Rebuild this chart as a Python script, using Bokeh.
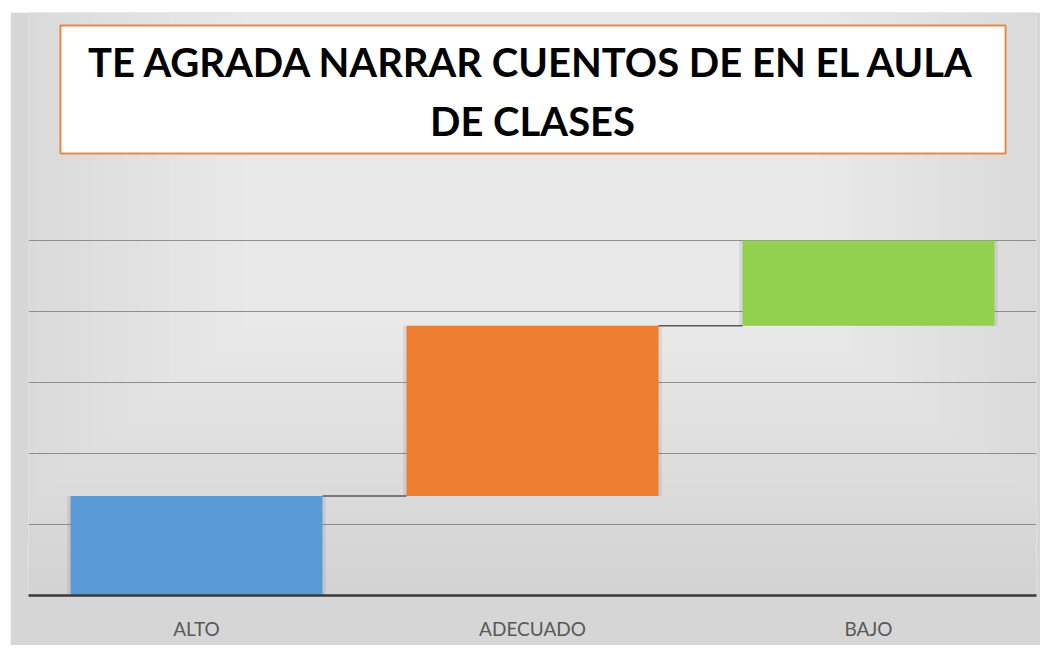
from bokeh.plotting import figure
from bokeh.models import FixedTicker, BoxAnnotation, Label, Range1d, ColumnDataSource
from bokeh.embed import file_html
from bokeh.resources import INLINE

# ---- data ----
categories = ["ALTO", "ADECUADO", "BAJO"]
values = [7, 12, 6]
colors = ["#5B9BD5", "#ED7D31", "#92D050"]
grid_ticks = [5, 10, 15, 20, 25]
title_text = "TE AGRADA NARRAR CUENTOS DE EN EL AULA\nDE CLASES"

# waterfall geometry derived from the values
bottoms, tops = [], []
run = 0
for v in values:
    bottoms.append(run)
    run += v
    tops.append(run)
xs = [i + 0.5 for i in range(len(categories))]
bar_w = 0.75

src = ColumnDataSource(dict(x=xs, bottom=bottoms, top=tops, color=colors, cat=categories))

p = figure(width=1030, height=633, margin=(12, 3, 4, 10),
           x_range=Range1d(0, 3), y_range=Range1d(0, 41.06),
           output_backend="svg", toolbar_location=None,
           min_border_left=18, min_border_right=4, min_border_top=0, min_border_bottom=50)

p.background_fill_color = "#d3d3d3"
p.border_fill_color = "#d6d6d6"
p.outline_line_color = None

# soft light gradient (lighter at top centre)
n = 30
for k in range(n):
    p.add_layout(BoxAnnotation(left=-0.3 + 0.045 * k, right=3.3 - 0.045 * k,
                               bottom=1 + 0.85 * k, top=60,
                               fill_color="white", fill_alpha=0.045,
                               line_color=None, level="image"))

# grid
p.ygrid.ticker = FixedTicker(ticks=grid_ticks)
p.ygrid.grid_line_color = "#8f8f8f"
p.ygrid.grid_line_width = 1
p.xgrid.visible = False
p.yaxis.visible = False

# x axis
p.xaxis.ticker = FixedTicker(ticks=xs)
p.xaxis.major_label_overrides = {x: c for x, c in zip(xs, categories)}
p.xaxis.axis_line_color = "#3a3a3a"
p.xaxis.axis_line_width = 2.5
p.xaxis.major_tick_line_color = None
p.xaxis.minor_tick_line_color = None
p.xaxis.major_tick_out = 0
p.xaxis.major_tick_in = 0
p.xaxis.major_label_text_font = "Lato"
p.xaxis.major_label_text_font_size = "19px"
p.xaxis.major_label_text_color = "#595959"
p.xaxis.major_label_standoff = 21

# shadows
p.vbar(x="x", width=bar_w + 0.02, bottom="bottom", top="top", source=src,
       fill_color="black", fill_alpha=0.07, line_color=None)

# bars
p.vbar(x="x", width=bar_w, bottom="bottom", top="top", source=src,
       fill_color="color", line_color=None)

# connectors
cx0 = [xs[i] + bar_w / 2 for i in range(len(xs) - 1)]
cx1 = [xs[i + 1] - bar_w / 2 for i in range(len(xs) - 1)]
cy = tops[:-1]
p.segment(x0=cx0, y0=cy, x1=cx1, y1=cy, line_color="#595959", line_width=1.5)

# title box
p.add_layout(BoxAnnotation(left=0.095, right=2.908, bottom=31.13, top=40.14,
                           fill_color="white", fill_alpha=1.0,
                           line_color="#ED7D31", line_width=2, line_alpha=0.9))
p.add_layout(Label(x=1.5, y=35.49, text=title_text, text_align="center",
                   text_baseline="middle", text_font="Lato", text_font_style="bold",
                   text_font_size="40px", text_color="black", text_line_height=1.24))

open("out.html", "w").write(file_html(p, INLINE))
